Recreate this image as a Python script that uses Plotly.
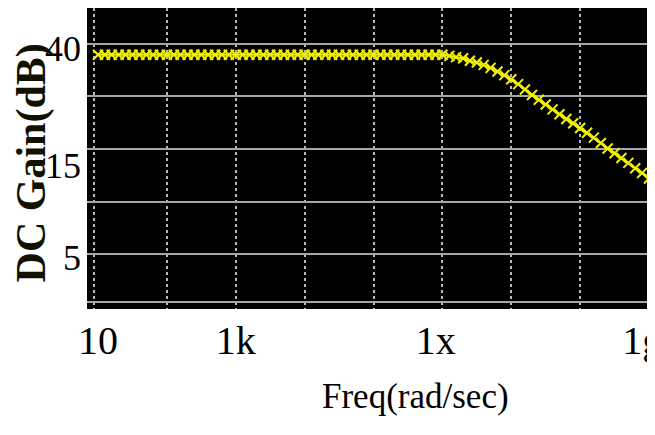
import plotly.graph_objects as go

# Frequency sweep (rad/sec)
freq = [
    1.00e1, 1.26e1, 1.58e1, 2.00e1, 2.51e1, 3.16e1, 3.98e1, 5.01e1, 6.31e1, 7.94e1,
    1.00e2, 1.26e2, 1.58e2, 2.00e2, 2.51e2, 3.16e2, 3.98e2, 5.01e2, 6.31e2, 7.94e2,
    1.00e3, 1.26e3, 1.58e3, 2.00e3, 2.51e3, 3.16e3, 3.98e3, 5.01e3, 6.31e3, 7.94e3,
    1.00e4, 1.26e4, 1.58e4, 2.00e4, 2.51e4, 3.16e4, 3.98e4, 5.01e4, 6.31e4, 7.94e4,
    1.00e5, 1.26e5, 1.58e5, 2.00e5, 2.51e5, 3.16e5, 3.98e5, 5.01e5, 6.31e5, 7.94e5,
    1.00e6, 1.26e6, 1.58e6, 2.00e6, 2.51e6, 3.16e6, 3.98e6, 5.01e6, 6.31e6, 7.94e6,
    1.00e7, 1.26e7, 1.58e7, 2.00e7, 2.51e7, 3.16e7, 3.98e7, 5.01e7, 6.31e7, 7.94e7,
    1.00e8, 1.26e8, 1.58e8, 2.00e8, 2.51e8, 3.16e8, 3.98e8, 5.01e8, 6.31e8, 7.94e8,
    1.00e9,
]

# DC gain (dB)
gain_db = [
    38.2, 38.2, 38.2, 38.2, 38.2, 38.2, 38.2, 38.2, 38.2, 38.2,
    38.2, 38.2, 38.2, 38.2, 38.2, 38.2, 38.2, 38.2, 38.2, 38.2,
    38.2, 38.2, 38.2, 38.2, 38.2, 38.2, 38.2, 38.2, 38.2, 38.2,
    38.2, 38.2, 38.2, 38.2, 38.2, 38.2, 38.2, 38.2, 38.2, 38.2,
    38.2, 38.2, 38.2, 38.2, 38.2, 38.2, 38.2, 38.2, 38.2, 38.2,
    38.2, 38.0, 37.8, 37.6, 37.2, 36.9, 36.5, 36.0, 35.4, 34.8,
    34.1, 33.3, 32.4, 31.5, 30.7, 29.9, 29.1, 28.3, 27.5, 26.8,
    26.0, 25.2, 24.4, 23.5, 22.6, 21.8, 21.0, 20.2, 19.3, 18.5,
    17.6,
]

# Axis tick labels (placed where the reference prints them)
x_tick_vals = [1e1, 1e3, 8e5, 8e8]
x_tick_text = ["10", "1k", "1x", "1g"]
y_tick_vals = [39.2, 19.8, 4.5]
y_tick_text = ["40", "15", "5"]

# Grid lines
x_grid_vals = [8.7, 1e2, 1e3, 1e4, 1e5, 1e6, 1e7, 1e8, 1e9]
y_grid_vals = [-2.96, 5, 13.75, 22.5, 31.25, 40]

yellow = "#f2f200"
serif = "Liberation Serif"

fig = go.Figure()
fig.add_trace(go.Scatter(
    x=freq, y=gain_db, mode="lines+markers",
    line=dict(color=yellow, width=2.2),
    marker=dict(symbol="x-thin-open", size=10, color=yellow,
                line=dict(color=yellow, width=2)),
    hoverinfo="skip",
))

# the page body adds an 8px offset, so the figure is sized to fill the window
fig.update_layout(
    width=647, height=427,
    margin=dict(l=79, r=6, t=0, b=126),
    paper_bgcolor="white", plot_bgcolor="black",
    showlegend=False,
    annotations=[
        dict(text="Freq(rad/sec)", xref="paper", yref="paper",
             x=0.585, y=-0.29, xanchor="center", yanchor="middle",
             showarrow=False, font=dict(family=serif, size=35, color="black")),
        dict(text="<b>DC Gain(dB)</b>", xref="paper", yref="paper",
             x=-0.099, y=0.485, xanchor="center", yanchor="middle",
             textangle=-90, showarrow=False,
             font=dict(family=serif, size=42, color="#111100")),
    ],
)

fig.update_xaxes(
    type="log", range=[0.84, 9.0], automargin=False,
    tickmode="array", tickvals=x_tick_vals, ticktext=x_tick_text,
    showgrid=False, zeroline=False, showline=False, ticks="",
    tickfont=dict(family=serif, size=40, color="black"),
    ticklabeloverflow="allow", ticklabelstandoff=4,
    minor=dict(tickmode="array", tickvals=x_grid_vals, showgrid=True,
               gridcolor="#b8b8b8", griddash="dot", gridwidth=1.5, ticks=""),
)
fig.update_yaxes(
    range=[-4.12, 45.97], automargin=False,
    tickmode="array", tickvals=y_tick_vals, ticktext=y_tick_text,
    showgrid=False, zeroline=False, showline=False, ticks="",
    tickfont=dict(family=serif, size=36, color="black"),
    ticklabelstandoff=5,
    minor=dict(tickmode="array", tickvals=y_grid_vals, showgrid=True,
               gridcolor="#a6a6a6", gridwidth=1.5, ticks=""),
)

fig.write_html("out.html")
